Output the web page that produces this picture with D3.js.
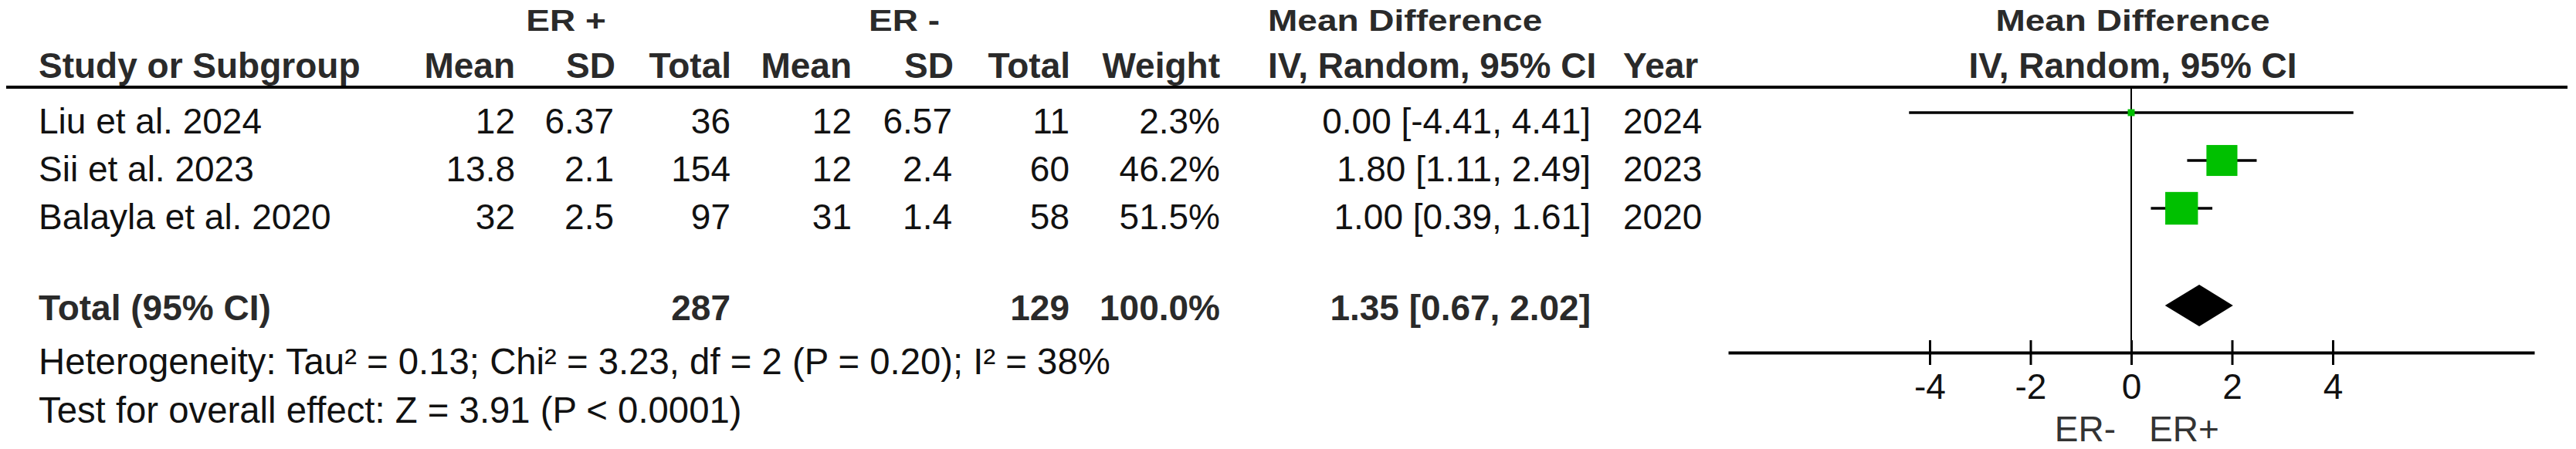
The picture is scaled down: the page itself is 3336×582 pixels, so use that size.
<!DOCTYPE html>
<html><head><meta charset="utf-8">
<script src="https://cdn.jsdelivr.net/npm/d3@7"></script>
<style>
html,body{margin:0;padding:0;background:#fff;}
svg{display:block;}
text{font-family:"Liberation Sans",Arial,Helvetica,sans-serif;font-size:46px;}
</style>
</head><body>
<svg id="chart" width="3336" height="582"></svg>
<script>
// ---------- data ----------
const studies   = ["Liu et al. 2024", "Sii et al. 2023", "Balayla et al. 2020"];
const posMean   = ["12", "13.8", "32"];
const posSD     = ["6.37", "2.1", "2.5"];
const posTotal  = [36, 154, 97];
const negMean   = ["12", "12", "31"];
const negSD     = ["6.57", "2.4", "1.4"];
const negTotal  = [11, 60, 58];
const weights   = [2.3, 46.2, 51.5];
const md        = [0.00, 1.80, 1.00];
const ciLow     = [-4.41, 1.11, 0.39];
const ciHigh    = [4.41, 2.49, 1.61];
const years     = [2024, 2023, 2020];
const totalPos  = 287;
const totalNeg  = 129;
const totalWeight = 100.0;
const totalMD   = 1.35, totalLow = 0.67, totalHigh = 2.02;
const tickValues = [-4, -2, 0, 2, 4];
const heterogeneity = "Heterogeneity: Tau² = 0.13; Chi² = 3.23, df = 2 (P = 0.20); I² = 38%";
const overallTest   = "Test for overall effect: Z = 3.91 (P < 0.0001)";
const favLeft = "ER-", favRight = "ER+";

// ---------- layout ----------
const W = 3336, H = 582;
const svg = d3.select("#chart");
svg.append("rect").attr("width", W).attr("height", H).attr("fill", "#fff");

const f2 = v => d3.format(".2f")(v).replace("\u2212", "-");
const f1 = v => d3.format(".1f")(v).replace("\u2212", "-");
const ciText = (m, l, h) => `${f2(m)} [${f2(l)}, ${f2(h)}]`;

const yRow = d3.scaleLinear().domain([0, 2]).range([173, 297]);
const yTotal = 415;
const markOffset = 27;       // marks sit above text baseline
const x = d3.scaleLinear().domain([-8, 8]).range([2238, 3282]);
const boxSize = d3.scaleSqrt().domain([0, 100]).range([0, 59]);

const cols = [
  {vals: studies,  x: 50,   anchor: "start"},
  {vals: posMean,  x: 667,  anchor: "end"},
  {vals: posSD,    x: 795,  anchor: "end"},
  {vals: posTotal, x: 946,  anchor: "end"},
  {vals: negMean,  x: 1103, anchor: "end"},
  {vals: negSD,    x: 1233, anchor: "end"},
  {vals: negTotal, x: 1385, anchor: "end"},
  {vals: weights.map(w => f1(w) + "%"), x: 1580, anchor: "end"},
  {vals: md.map((m, i) => ciText(m, ciLow[i], ciHigh[i])), x: 2060, anchor: "end"},
  {vals: years,    x: 2102, anchor: "start"}
];
const headers = ["Study or Subgroup","Mean","SD","Total","Mean","SD","Total","Weight","IV, Random, 95% CI","Year"];

const bold = "#2a2a2a", ink = "#111";

// group headers (top row is vertically squat in the reference)
const g1 = [
  {t: "ER +", x: 733, a: "middle"},
  {t: "ER -", x: 1171, a: "middle"},
  {t: "Mean Difference", x: 1642, a: "start"},
  {t: "Mean Difference", x: 2762, a: "middle"}
];
svg.selectAll("text.h1").data(g1).join("text").attr("class","h1")
  .attr("transform", d => `translate(${d.x},40) scale(1,0.84)`)
  .attr("text-anchor", d => d.a)
  .attr("font-weight","bold").attr("fill", bold).text(d => d.t);

// column headers
svg.selectAll("text.h2").data(cols).join("text").attr("class","h2")
  .attr("x", (d, i) => i === 8 ? 1642 : (i === 3 || i === 6) ? d.x + 1 : d.x + (i===2||i===5 ? 2 : 0))
  .attr("y", 101)
  .attr("text-anchor", (d, i) => i === 8 ? "start" : d.anchor)
  .attr("font-weight","bold").attr("fill", bold).text((d, i) => headers[i]);
svg.append("text").attr("x", 2762).attr("y", 101).attr("text-anchor","middle")
  .attr("font-weight","bold").attr("fill", bold).text("IV, Random, 95% CI");

// header rule
svg.append("line").attr("x1", 8).attr("x2", 3325).attr("y1", 113).attr("y2", 113)
  .attr("stroke", "#000").attr("stroke-width", 4);

// study rows
cols.forEach(c => {
  svg.append("g").selectAll("text").data(c.vals).join("text")
    .attr("x", c.x).attr("y", (d, i) => yRow(i)).attr("text-anchor", c.anchor)
    .attr("fill", ink).text(d => d);
});

// total row
const totalRow = [
  {t: "Total (95% CI)", x: 50, a: "start"},
  {t: totalPos, x: 946, a: "end"},
  {t: totalNeg, x: 1385, a: "end"},
  {t: f1(totalWeight) + "%", x: 1580, a: "end"},
  {t: ciText(totalMD, totalLow, totalHigh), x: 2060, a: "end"}
];
svg.selectAll("text.tot").data(totalRow).join("text").attr("class","tot")
  .attr("x", d => d.x).attr("y", yTotal).attr("text-anchor", d => d.a)
  .attr("font-weight","bold").attr("fill", bold).text(d => d.t);

// footnotes
svg.selectAll("text.foot").data([heterogeneity, overallTest]).join("text").attr("class","foot")
  .attr("x", 50).attr("y", (d, i) => [485, 548][i]).attr("fill", ink)
  .style("font-size", "47.3px").text(d => d);

// ---------- forest plot ----------
const axisY = 457;
svg.append("line").attr("x1", x(0)).attr("x2", x(0)).attr("y1", 113).attr("y2", axisY)
  .attr("stroke", "#000").attr("stroke-width", 2);

const rows = studies.map((s, i) => ({i, m: md[i], l: ciLow[i], h: ciHigh[i], w: weights[i]}));
svg.append("g").selectAll("line").data(rows).join("line")
  .attr("x1", d => x(d.l)).attr("x2", d => x(d.h))
  .attr("y1", d => yRow(d.i) - markOffset).attr("y2", d => yRow(d.i) - markOffset)
  .attr("stroke", "#000").attr("stroke-width", 3.5);
svg.append("g").selectAll("rect").data(rows).join("rect")
  .attr("x", d => x(d.m) - boxSize(d.w) / 2)
  .attr("y", d => yRow(d.i) - markOffset - boxSize(d.w) / 2)
  .attr("width", d => boxSize(d.w)).attr("height", d => boxSize(d.w))
  .attr("fill", "#00c000");

// diamond
const dy = 396, dh = 27;
svg.append("path")
  .attr("d", `M${x(totalLow)},${dy}L${x(totalMD)},${dy - dh}L${x(totalHigh)},${dy}L${x(totalMD)},${dy + dh}Z`)
  .attr("fill", "#000");

// axis
const axis = d3.axisBottom(x).tickValues(tickValues).tickSize(16).tickSizeOuter(0)
  .tickFormat(d => String(d));
const ag = svg.append("g").attr("transform", `translate(0,${axisY})`).call(axis);
ag.attr("font-size", null).attr("font-family", null);
ag.select(".domain").attr("stroke", "#000").attr("stroke-width", 4);
ag.selectAll(".tick line").attr("y1", -16).attr("y2", 16).attr("stroke", "#000").attr("stroke-width", 3);
ag.selectAll(".tick text").attr("y", 60).attr("dy", null).attr("fill", ink)
  .style("font-size", "46px");

svg.append("text").attr("x", x(0) - 20).attr("y", 572).attr("text-anchor", "end")
  .attr("fill", "#333").text(favLeft);
svg.append("text").attr("x", x(0) + 23).attr("y", 572).attr("text-anchor", "start")
  .attr("fill", "#333").text(favRight);
</script>
</body></html>
